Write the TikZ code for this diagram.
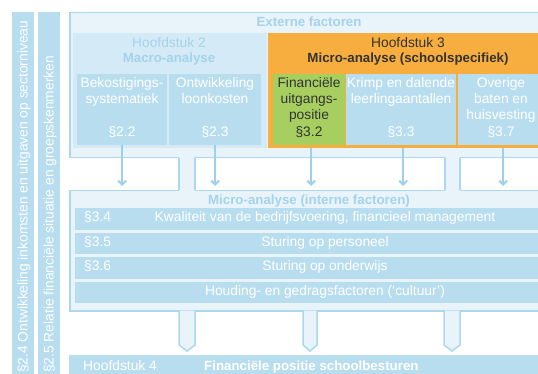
\documentclass[tikz,border=0pt]{standalone}
\usepackage{fontspec}
\setmainfont{Liberation Sans}
\usetikzlibrary{arrows.meta}
\definecolor{lichtblauw}{HTML}{E8F4FA}
\definecolor{randblauw}{HTML}{ACD8EE}
\definecolor{middenblauw}{HTML}{B8DDEF}
\definecolor{hblauw}{HTML}{D4EAF6}
\definecolor{titelblauw}{HTML}{A5D3EC}
\definecolor{oranje}{HTML}{F8AE3E}
\definecolor{groen}{HTML}{A7CF60}
\definecolor{donker}{HTML}{333333}
\definecolor{pijlblauw}{HTML}{9DD0EA}
\begin{document}
\begin{tikzpicture}[x=1pt,y=-1pt,
        vlak/.style={rectangle,inner sep=0pt,anchor=north west},
        tekst/.style={inner sep=0pt,anchor=base,align=center,font=\fontsize{13.8}{16}\selectfont},
        vet/.style={tekst,font=\fontsize{13.3}{16}\selectfont\bfseries},
        buis/.style={fill=lichtblauw,draw=randblauw,line width=1.5pt},
        pijl/.style={pijlblauw,line width=2pt,-{Straight Barb[length=4pt,width=8pt]},shorten >=4pt}]
    \useasboundingbox (0,0) rectangle (538,374);
    \clip (0,0) rectangle (538,374);
    %% side bars
    \node[vlak,fill=middenblauw,minimum width=22pt,minimum height=370pt] (bar24) at (12,12) {};
    \node[vlak,fill=middenblauw,minimum width=22pt,minimum height=370pt] (bar25) at (38,12) {};
    \node[tekst,text=white,rotate=90,anchor=base west] at (27.5,373) {§2.4 Ontwikkeling inkomsten en uitgaven op sectorniveau};
    \node[tekst,text=white,rotate=90,anchor=base west] at (53.5,373) {§2.5 Relatie financiële situatie en groepskenmerken};
    %% externe factoren
    \node[vlak,buis,minimum width=480pt,minimum height=145pt] (extern) at (69,12) {};
    \node[vet,text=titelblauw] at (309,26.5) {Externe factoren};
    \node[vlak,fill=hblauw,minimum width=194pt,minimum height=115pt] (h2) at (73,33) {};
    \node[tekst,text=titelblauw] at (169,47.5) {Hoofdstuk 2};
    \node[vet,text=titelblauw] at (169,63) {Macro-analyse};
    \node[vlak,fill=middenblauw,minimum width=90pt,minimum height=71pt] (bek) at (77,74) {};
    \node[vlak,fill=middenblauw,minimum width=92pt,minimum height=71pt] (loon) at (169,74) {};
    \node[tekst,text=white] at (122,104) {Bekostigings-\\systematiek};
    \node[tekst,text=white] at (122,137) {§2.2};
    \node[tekst,text=white] at (215,104) {Ontwikkeling\\loonkosten};
    \node[tekst,text=white] at (215,137) {§2.3};
    %% hoofdstuk 3
    \node[vlak,fill=oranje,minimum width=280pt,minimum height=115pt] (h3) at (268,33) {};
    \node[tekst,text=donker] at (408,47.5) {Hoofdstuk 3};
    \node[vet,text=donker] at (408,63) {Micro-analyse (schoolspecifiek)};
    \node[vlak,fill=groen,minimum width=72pt,minimum height=71pt] (fin) at (273,74) {};
    \node[vlak,fill=middenblauw,minimum width=110pt,minimum height=71pt] (krimp) at (346,74) {};
    \node[vlak,fill=middenblauw,minimum width=86pt,minimum height=71pt] (overig) at (458,74) {};
    \node[tekst,text=donker] at (309,120) {Financiële\\uitgangs-\\positie};
    \node[tekst,text=donker] at (309,137) {§3.2};
    \node[tekst,text=white] at (401,104) {Krimp en dalende\\leerlingaantallen};
    \node[tekst,text=white] at (401,137) {§3.3};
    \node[tekst,text=white] at (501,120) {Overige\\baten en\\huisvesting};
    \node[tekst,text=white] at (501,137) {§3.7};
    %% interne factoren
    \node[vlak,buis,minimum width=480pt,minimum height=120pt] (micro) at (69,190) {};
    \foreach \xa/\xb in {179/195,445/460} {
        \fill[lichtblauw] (\xa,156) rectangle (\xb,191);
        \draw[randblauw,line width=1.5pt] (\xa,0 |- extern.south) -- (\xa,0 |- micro.north)
            (\xb,0 |- extern.south) -- (\xb,0 |- micro.north);
    }
    \node[vet,text=titelblauw] at (309,204.5) {Micro-analyse (interne factoren)};
    \foreach \i/\nr/\txt in {0/{§3.4}/{Kwaliteit van de bedrijfsvoering, financieel management},
            1/{§3.5}/{Sturing op personeel},2/{§3.6}/{Sturing op onderwijs},
            3/{}/{Houding- en gedragsfactoren (‘cultuur’)}} {
        \node[vlak,fill=middenblauw,minimum width=468pt,minimum height=21.5pt] (rij\i) at (75,208+24.5*\i) {};
        \node[tekst,text=white,anchor=base west] at (84,221.7+24.5*\i) {\nr};
        \node[tekst,text=white] at (325,221.7+24.5*\i) {\txt};
    }
    %% hoofdstuk 4
    \node[vlak,fill=middenblauw,minimum width=480pt,minimum height=30pt] (h4) at (69,355) {};
    \node[tekst,text=white,anchor=base west] at (83,370.5) {Hoofdstuk 4};
    \node[vet,text=white,anchor=base west] at (204,370.5) {Financiële positie schoolbesturen};
    \coordinate (mb) at ([yshift=1pt]micro.south);
    \foreach \xa/\xb in {179/195,303/317,444/460}
        \filldraw[buis] (\xa,0 |- mb) -- (\xa,345) -- ({(\xa+\xb)/2},351) -- (\xb,345) -- (\xb,0 |- mb);
    %% arrows
    \foreach \n in {bek,loon}
        \draw[pijl] (\n.south) -- (\n.south |- micro.north);
    \foreach \n in {fin,krimp,overig}
        \draw[pijl] ([xshift=2pt]\n.south |- h3.south) -- ([xshift=2pt]\n.south |- micro.north);
\end{tikzpicture}
\end{document}
